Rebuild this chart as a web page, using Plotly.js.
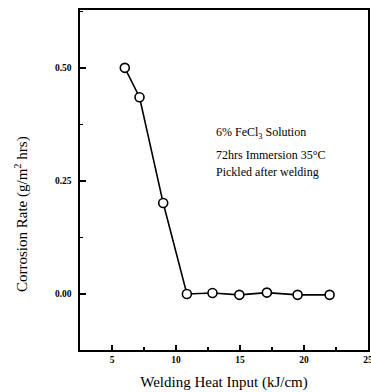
<!DOCTYPE html>
<html>
<head>
<meta charset="utf-8">
<script src="https://cdn.plot.ly/plotly-3.0.1.min.js"></script>
<style>html,body{margin:0;padding:0;background:#fff}#chart{width:371px;height:392px}</style>
</head>
<body>
<div id="chart"></div>
<script>
var heatInput = [6.0, 7.15, 9.0, 10.85, 12.85, 14.95, 17.1, 19.5, 22.0];
var corrosionRate = [0.50, 0.435, 0.201, 0.0, 0.002, -0.002, 0.003, -0.002, -0.002];
var xTickVals = [5, 10, 15, 20, 25];
var yTickVals = [0.00, 0.25, 0.50];
var noteLines = ["6% FeCl<sub>3</sub> Solution", "72hrs Immersion 35°C", "Pickled after welding"];
var xTitle = "Welding Heat Input (kJ/cm)";
var yTitle = "Corrosion Rate (g/m<sup>2</sup> hrs)";

var serif = "Liberation Serif, Times New Roman, serif";
var trace = {
  x: heatInput, y: corrosionRate, type: 'scatter', mode: 'lines+markers',
  line: {color: '#000', width: 1.6},
  marker: {symbol: 'circle', size: 9, color: '#fff', line: {color: '#000', width: 1.6}},
  cliponaxis: false, showlegend: false, hoverinfo: 'none'
};
var noteY = [0.355, 0.308, 0.27];
var annotations = noteLines.map(function(t, i) {
  return {text: t, x: 0.467, y: noteY[i], xref: 'paper', yref: 'y', xanchor: 'left', yanchor: 'middle',
    showarrow: false, font: {family: serif, size: 12, color: '#000'}};
});
annotations.push({text: yTitle, textangle: -90, x: -0.205, xref: 'paper', y: 0.40, yref: 'paper',
  xanchor: 'center', yanchor: 'middle',
  showarrow: false, font: {family: serif, size: 15, color: '#000'}});

var layout = {
  width: 371, height: 392,
  margin: {l: 80, r: 3, t: 10, b: 42},
  paper_bgcolor: '#fff', plot_bgcolor: '#fff',
  font: {family: serif, color: '#000'},
  xaxis: {
    range: [2.5, 25], tickvals: xTickVals, ticktext: xTickVals.map(String),
    ticks: 'inside', ticklen: 5, tickwidth: 1.3, tickcolor: '#000',
    minor: {dtick: 2.5, tick0: 0, ticks: 'inside', ticklen: 3, tickwidth: 1.2, tickcolor: '#000'},
    showline: true, linecolor: '#000', linewidth: 1.6, mirror: true,
    showgrid: false, zeroline: false, ticklabeloverflow: 'allow',
    tickfont: {family: serif, size: 9.5, color: '#000', weight: 'bold'},
    title: {text: xTitle, font: {family: serif, size: 15, color: '#000'}, standoff: 12}
  },
  yaxis: {
    range: [-0.124, 0.628], tickvals: yTickVals, ticktext: yTickVals.map(function(v){return v.toFixed(2);}),
    ticks: 'inside', ticklen: 6, tickwidth: 1.3, tickcolor: '#000',
    minor: {dtick: 0.125, tick0: 0, ticks: 'inside', ticklen: 3, tickwidth: 1.2, tickcolor: '#000'},
    showline: true, linecolor: '#000', linewidth: 1.6, mirror: true,
    showgrid: false, zeroline: false,
    tickfont: {family: serif, size: 9.5, color: '#000', weight: 'bold'},
    ticklabelstandoff: 5
  },
  annotations: annotations
};
Plotly.newPlot('chart', [trace], layout, {staticPlot: true, displayModeBar: false});
</script>
</body>
</html>
